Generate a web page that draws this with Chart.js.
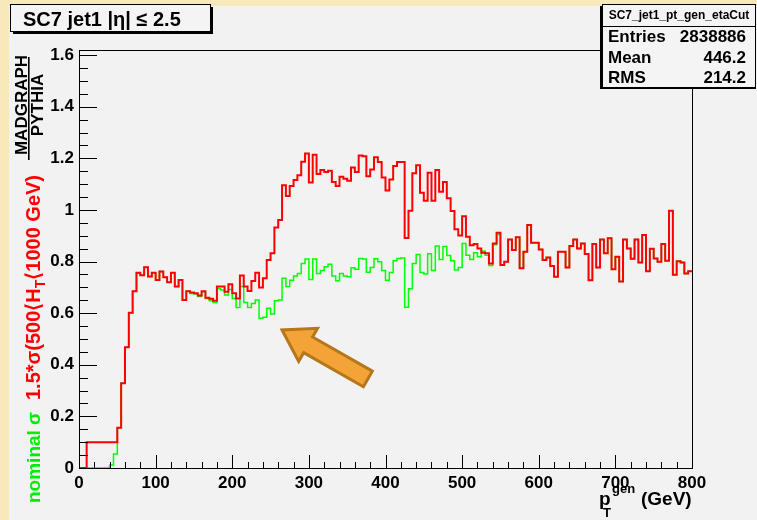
<!DOCTYPE html>
<html>
<head>
<meta charset="utf-8">
<script src="https://cdn.jsdelivr.net/npm/chart.js@4.4.0/dist/chart.umd.min.js"></script>
<style>
  html, body { margin: 0; padding: 0; background: #f2f2f2; }
  canvas { display: block; }
</style>
</head>
<body>
<canvas id="myChart" width="757" height="520"></canvas>
<script>
// histogram bins are 5 GeV wide, lower edges 0 ... 795
const binWidth = 5;

// MADGRAPH / PYTHIA ratio, 1.5*sigma(500<HT<1000 GeV)  (red)
const redRatio = [
  0, 0, 0.1, 0.1, 0.1, 0.1, 0.1, 0.1, 0.1, 0.1,
  0.156, 0.328, 0.468, 0.602, 0.685, 0.757, 0.747, 0.778, 0.742, 0.757,
  0.729, 0.762, 0.739, 0.720, 0.757, 0.703, 0.729, 0.651, 0.685, 0.680,
  0.677, 0.669, 0.685, 0.660, 0.656, 0.648, 0.703, 0.703, 0.683, 0.712,
  0.677, 0.657, 0.746, 0.703, 0.686, 0.725, 0.757, 0.700, 0.735, 0.806,
  0.832, 0.932, 0.961, 1.096, 1.054, 1.093, 1.116, 1.135, 1.187, 1.219,
  1.106, 1.214, 1.139, 1.155, 1.147, 1.152, 1.108, 1.093, 1.129, 1.121,
  1.113, 1.165, 1.147, 1.211, 1.208, 1.131, 1.157, 1.204, 1.186, 1.126,
  1.075, 1.118, 1.170, 1.186, 1.186, 0.891, 0.997, 1.142, 1.173, 1.067,
  1.036, 1.144, 1.036, 1.155, 1.071, 1.108, 1.045, 0.996, 0.925, 0.901,
  0.976, 0.896, 0.863, 0.868, 0.851, 0.834, 0.832, 0.793, 0.870, 0.912,
  0.787, 0.799, 0.886, 0.845, 0.894, 0.774, 0.838, 0.942, 0.873, 0.873,
  0.847, 0.806, 0.816, 0.783, 0.741, 0.838, 0.838, 0.777, 0.860, 0.886,
  0.851, 0.870, 0.829, 0.728, 0.868, 0.777, 0.886, 0.832, 0.890, 0.770,
  0.819, 0.723, 0.886, 0.851, 0.811, 0.886, 0.796, 0.903, 0.763, 0.850,
  0.812, 0.799, 0.868, 0.803, 0.997, 0.749, 0.801, 0.796, 0.754, 0.763
];

// nominal sigma (green)
const greenRatio = [
  0, 0, 0, 0, 0, 0, 0, 0, 0.012, 0.054,
  0.156, 0.328, 0.468, 0.602, 0.685, 0.757, 0.747, 0.778, 0.742, 0.757,
  0.729, 0.762, 0.739, 0.720, 0.757, 0.703, 0.729, 0.651, 0.685, 0.676,
  0.674, 0.665, 0.683, 0.657, 0.648, 0.641, 0.696, 0.690, 0.670, 0.692,
  0.657, 0.622, 0.703, 0.641, 0.622, 0.638, 0.651, 0.580, 0.584, 0.619,
  0.597, 0.648, 0.651, 0.735, 0.703, 0.728, 0.744, 0.754, 0.793, 0.810,
  0.731, 0.810, 0.754, 0.765, 0.780, 0.790, 0.744, 0.726, 0.754, 0.744,
  0.741, 0.776, 0.770, 0.812, 0.810, 0.759, 0.777, 0.811, 0.799, 0.765,
  0.728, 0.758, 0.803, 0.812, 0.814, 0.623, 0.695, 0.793, 0.827, 0.758,
  0.752, 0.830, 0.765, 0.860, 0.808, 0.858, 0.824, 0.803, 0.767, 0.777,
  0.870, 0.825, 0.808, 0.834, 0.819, 0.841, 0.825, 0.785, 0.865, 0.905,
  0.787, 0.799, 0.886, 0.845, 0.894, 0.774, 0.838, 0.942, 0.873, 0.873,
  0.847, 0.806, 0.816, 0.783, 0.741, 0.838, 0.838, 0.777, 0.860, 0.886,
  0.851, 0.870, 0.829, 0.728, 0.868, 0.777, 0.886, 0.832, 0.890, 0.770,
  0.819, 0.723, 0.886, 0.851, 0.811, 0.886, 0.796, 0.903, 0.763, 0.850,
  0.812, 0.799, 0.868, 0.803, 0.997, 0.749, 0.801, 0.796, 0.754, 0.763
];

const xTicks = [0, 100, 200, 300, 400, 500, 600, 700, 800];
const yTicks = [0, 0.2, 0.4, 0.6, 0.8, 1, 1.2, 1.4, 1.6];

const histTitle = "SC7 jet1 |\u03B7| \u2264 2.5";
const statsName = "SC7_jet1_pt_gen_etaCut";
const statsRows = [["Entries", "2838886"], ["Mean", "446.2"], ["RMS", "214.2"]];

const FONT = "'Liberation Sans', Arial, Helvetica, sans-serif";

// histogram -> step points (lower edge of each bin + closing point)
function toSteps(vals) {
  const pts = vals.map((v, i) => ({ x: i * binWidth, y: v }));
  pts.push({ x: vals.length * binWidth, y: vals[vals.length - 1] });
  return pts;
}

function txt(c, s, x, y, size, color, align) {
  c.font = "bold " + size + "px " + FONT;
  c.fillStyle = color || "#000";
  c.textAlign = align || "left";
  c.textBaseline = "alphabetic";
  c.fillText(s, x, y);
  return c.measureText(s).width;
}

const rootDecor = {
  id: "rootDecor",
  beforeDraw(chart) {
    const c = chart.ctx;
    c.save();
    c.fillStyle = "#f8e8ba";
    c.fillRect(0, 0, 757, 520);
    c.fillStyle = "#f2f2f2";
    c.fillRect(9, 6, 748, 514);
    c.restore();
  },
  afterDatasetsDraw(chart) {
    const c = chart.ctx;
    const a = chart.chartArea;
    const xs = chart.scales.x, ys = chart.scales.y;
    c.save();
    c.strokeStyle = "#000";
    c.lineWidth = 1;
    c.strokeRect(Math.round(a.left) + 0.5, Math.round(a.top) + 0.5,
                 Math.round(a.right - a.left), Math.round(a.bottom - a.top));
    c.beginPath();
    // y ticks (inward)
    for (let v = 0; v <= 1.6001; v += 0.05) {
      const major = Math.abs(v / 0.2 - Math.round(v / 0.2)) < 1e-6;
      const y = Math.round(ys.getPixelForValue(v)) + 0.5;
      c.moveTo(a.left, y);
      c.lineTo(a.left + (major ? 18 : 9), y);
    }
    // x ticks (inward)
    for (let v = 0; v <= 800; v += 20) {
      const major = v % 100 === 0;
      const x = Math.round(xs.getPixelForValue(v)) + 0.5;
      c.moveTo(x, a.bottom);
      c.lineTo(x, a.bottom - (major ? 13 : 6));
    }
    c.stroke();
    c.restore();
  },
  afterDraw(chart) {
    const c = chart.ctx;
    const xs = chart.scales.x, ys = chart.scales.y;
    c.save();

    // title box
    c.fillStyle = "#000";
    c.fillRect(13, 7, 200, 27);
    c.fillStyle = "#f4f4f4";
    c.fillRect(10, 4, 200, 27);
    c.strokeStyle = "#000";
    c.lineWidth = 1;
    c.strokeRect(10.5, 4.5, 200, 27);
    txt(c, histTitle, 23, 26, 20);

    // stats box
    c.fillStyle = "#000";
    c.fillRect(600, 6, 156, 83);
    c.fillStyle = "#f4f4f4";
    c.fillRect(602, 4, 154, 83);
    c.strokeRect(602.5, 4.5, 153, 83);
    c.beginPath();
    c.moveTo(602, 26.5);
    c.lineTo(756, 26.5);
    c.stroke();
    txt(c, statsName, 679, 19, 12, "#000", "center");
    statsRows.forEach((r, i) => {
      const y = 42 + i * 20.5;
      txt(c, r[0], 608, y, 17);
      txt(c, r[1], 746, y, 17, "#000", "right");
    });

    // x axis title
    txt(c, "p", 599, 505, 19);
    txt(c, "T", 603, 517, 13);
    txt(c, "gen", 612, 493, 13);
    txt(c, "(GeV)", 641, 505, 19);

    // y axis title (rotated)
    c.save();
    c.translate(40, 503);
    c.rotate(-Math.PI / 2);
    txt(c, "nominal \u03C3", 0, 0, 19, "#00ee00");
    let x = 103;
    x += txt(c, "1.5*\u03C3(500\u27E8H", x, 0, 20, "#ff0000");
    x += txt(c, "T", x, 5, 14, "#ff0000");
    txt(c, "\u27E81000 GeV)", x, 0, 20, "#ff0000");
    // fraction MADGRAPH / PYTHIA
    txt(c, "MADGRAPH", 398, -13, 17, "#000", "center");
    txt(c, "PYTHIA", 398, 3, 17, "#000", "center");
    c.fillStyle = "#000";
    c.fillRect(343, -12, 103, 1.6);
    c.restore();

    // orange arrow pointing at the dip
    const tipX = xs.getPixelForValue(265), tipY = ys.getPixelForValue(0.535);
    const tailX = xs.getPixelForValue(377), tailY = ys.getPixelForValue(0.345);
    const dx = tailX - tipX, dy = tailY - tipY;
    const L = Math.hypot(dx, dy);
    const ux = dx / L, uy = dy / L, px = -uy, py = ux;
    const P = (u, v) => [tipX + ux * u + px * v, tipY + uy * u + py * v];
    const head = 30, hw = 19, sw = 9;
    const poly = [P(0, 0), P(head, hw), P(head, sw), P(L, sw), P(L, -sw), P(head, -sw), P(head, -hw)];
    c.beginPath();
    poly.forEach((p, i) => (i ? c.lineTo(p[0], p[1]) : c.moveTo(p[0], p[1])));
    c.closePath();
    c.fillStyle = "#f4a436";
    c.fill();
    c.lineWidth = 3;
    c.lineJoin = "miter";
    c.strokeStyle = "#b5761c";
    c.stroke();

    c.restore();
  }
};

const tickFont = { family: FONT, size: 17, weight: "bold" };

const config = {
  type: "line",
  data: {
    datasets: [
      {
        label: "1.5*sigma(500<HT<1000 GeV)",
        data: toSteps(redRatio),
        borderColor: "#ff0000",
        borderWidth: 2,
        stepped: "before",
        pointRadius: 0,
        fill: false,
      },
      {
        label: "nominal sigma",
        data: toSteps(greenRatio),
        borderColor: "#00ff00",
        borderWidth: 1.5,
        stepped: "before",
        pointRadius: 0,
        fill: false,
      },
    ],
  },
  options: {
    responsive: false,
    animation: false,
    layout: { padding: { left: 39, right: 65, top: 50, bottom: 0 } },
    plugins: {
      legend: { display: false },
      tooltip: { enabled: false },
      title: { display: false },
    },
    scales: {
      x: {
        type: "linear",
        min: 0,
        max: 800,
        grid: { display: false, drawTicks: false },
        border: { display: false },
        afterBuildTicks: (s) => { s.ticks = xTicks.map((v) => ({ value: v })); },
        afterFit: (s) => { s.height = 52; },
        ticks: {
          font: tickFont, color: "#000", padding: 5,
          maxRotation: 0, autoSkip: false,
          callback: (v) => String(v),
        },
      },
      y: {
        type: "linear",
        min: 0,
        max: 1.62,
        grid: { display: false, drawTicks: false },
        border: { display: false },
        afterBuildTicks: (s) => { s.ticks = yTicks.map((v) => ({ value: v })); },
        afterFit: (s) => { s.width = 40; },
        ticks: {
          font: tickFont, color: "#000", padding: 5, autoSkip: false,
          callback: (v) => String(Number(v.toFixed(1))),
        },
      },
    },
  },
  plugins: [rootDecor],
};

const ctx = document.getElementById("myChart");
const myChart = new Chart(ctx, config);
</script>
</body>
</html>
